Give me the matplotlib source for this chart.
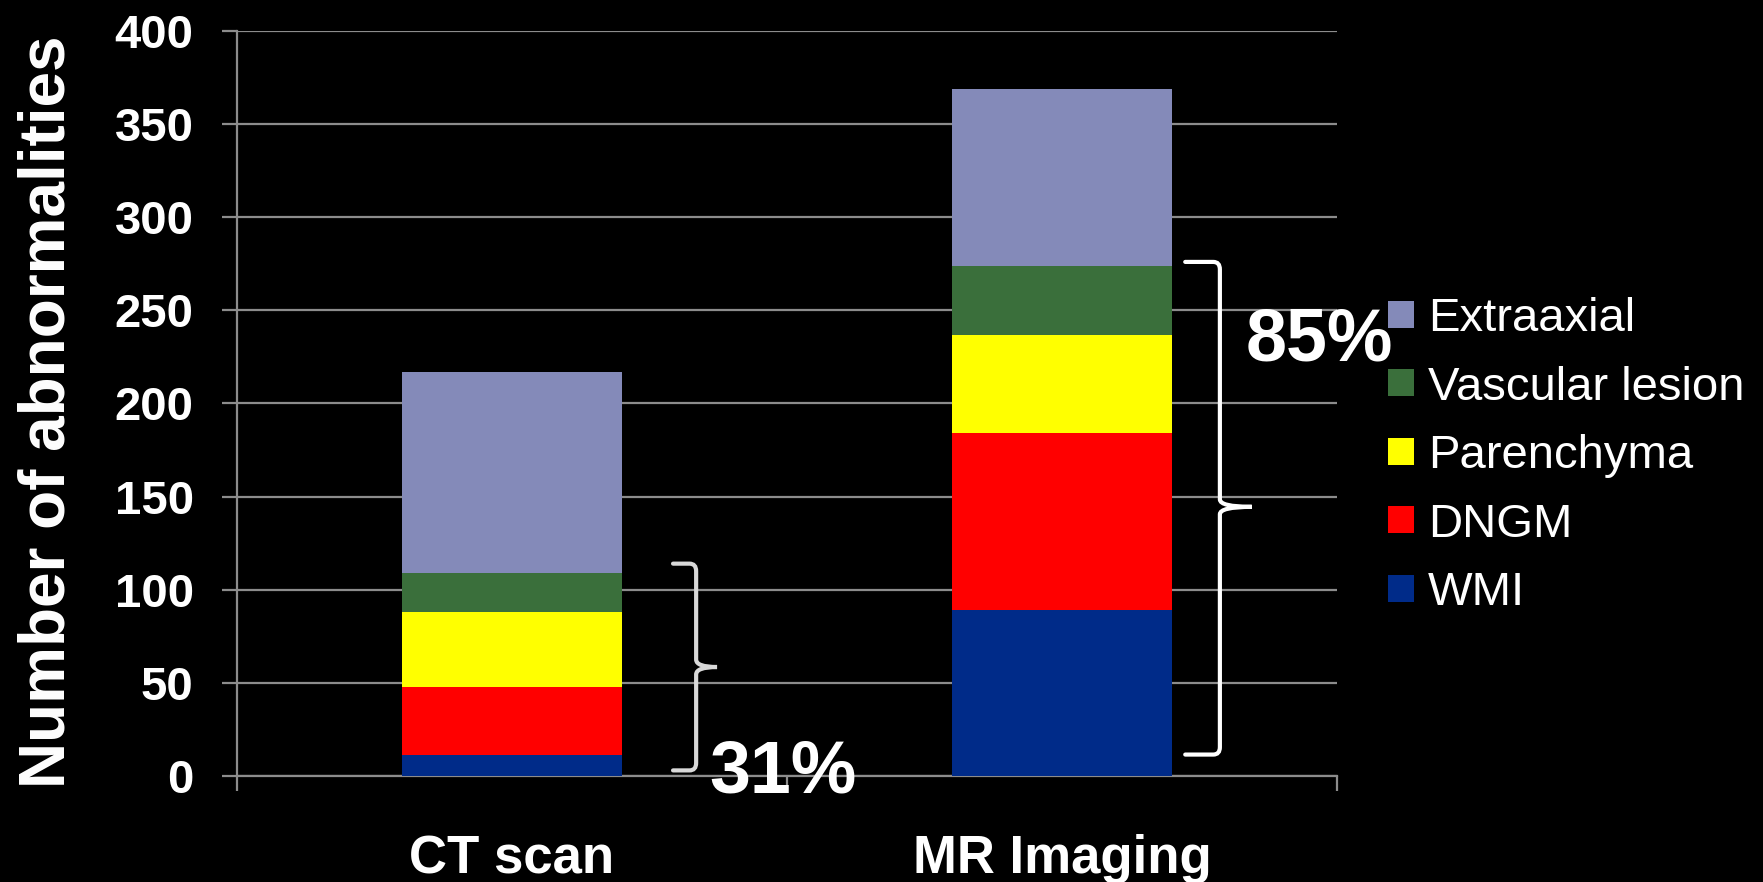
import matplotlib
matplotlib.use("Agg")
import matplotlib.pyplot as plt
from matplotlib.patches import Patch, PathPatch
from matplotlib.path import Path

plt.rcParams['font.family'] = ['Liberation Sans', 'DejaVu Sans']

categories = ["CT scan", "MR Imaging"]
series_names = ["WMI", "DNGM", "Parenchyma", "Vascular lesion", "Extraaxial"]
wmi = [11, 89]
dngm = [37, 95]
parenchyma = [40, 53]
vascular = [21, 37]
extraaxial = [108, 95]
series_colors = ["#002B89", "#FF0000", "#FFFF00", "#3A6F3B", "#848AB9"]
yticks = [0, 50, 100, 150, 200, 250, 300, 350, 400]
pct_labels = ["31%", "85%"]

grid_col = "#8C8C8C"

fig = plt.figure(figsize=(17.63, 8.82), dpi=100, facecolor="black")
ax = fig.add_axes([0.1343, 0.1202, 0.6241, 0.8447], facecolor="black")

x = list(range(len(categories)))
bottom = [0, 0]
for name, vals, col in zip(series_names, [wmi, dngm, parenchyma, vascular, extraaxial], series_colors):
    ax.bar(x, vals, width=0.4, bottom=bottom, color=col, label=name, zorder=3, linewidth=0)
    bottom = [b + v for b, v in zip(bottom, vals)]

ax.set_xlim(-0.5, 1.5)
ax.set_ylim(0, 400)
ax.set_yticks(yticks)
ax.set_yticklabels([str(t) for t in yticks], fontsize=34, fontweight="bold", color="white")
ax.yaxis.grid(True, color=grid_col, linewidth=1.6, zorder=0)
ax.set_axisbelow(True)

# category ticks sit between the bars, labels centred under them
ax.set_xticks([-0.5, 0.5, 1.5])
ax.set_xticklabels([])
ax.set_xticks(x, minor=True)
ax.set_xticklabels(categories, minor=True, fontsize=38, fontweight="bold", color="white")
ax.tick_params(axis="x", which="minor", length=0, pad=42)
ax.tick_params(axis="x", which="major", length=11, width=1.6, color=grid_col, direction="out")
ax.tick_params(axis="y", length=11, width=1.6, color=grid_col, pad=20)

for s in ["top", "right"]:
    ax.spines[s].set_visible(False)
ax.spines["left"].set_color(grid_col)
ax.spines["left"].set_linewidth(1.6)
ax.spines["bottom"].set_color(grid_col)
ax.spines["bottom"].set_linewidth(1.6)

fig.text(0.027, 0.533, "Number of abnormalities", rotation=90, ha="center", va="center",
         fontsize=46, fontweight="bold", color="white")


def brace(ax, x_hook, x_line, x_tip, y_bot, y_mid, y_top, color):
    rx, ry = 0.012, 4
    verts = [
        (x_hook, y_top), (x_line - rx, y_top), (x_line, y_top), (x_line, y_top - ry),
        (x_line, y_mid + ry), (x_line, y_mid), (x_tip, y_mid),
        (x_line, y_mid), (x_line, y_mid - ry),
        (x_line, y_bot + ry), (x_line, y_bot), (x_line - rx, y_bot), (x_hook, y_bot),
    ]
    codes = [
        Path.MOVETO, Path.LINETO, Path.CURVE3, Path.CURVE3,
        Path.LINETO, Path.CURVE3, Path.CURVE3,
        Path.CURVE3, Path.CURVE3,
        Path.LINETO, Path.CURVE3, Path.CURVE3, Path.LINETO,
    ]
    ax.add_patch(PathPatch(Path(verts, codes), facecolor="none", edgecolor=color,
                           linewidth=3.0, clip_on=False, zorder=5, capstyle="round"))


brace(ax, 0.293, 0.335, 0.373, 3, 58.5, 114, "#D9D9D9")
brace(ax, 1.224, 1.287, 1.345, 11.5, 144.5, 276, "white")

ax.text(0.493, -9, pct_labels[0], ha="center", va="baseline", fontsize=53,
        fontweight="bold", color="white", clip_on=False, zorder=6)
ax.text(1.468, 223, pct_labels[1], ha="center", va="baseline", fontsize=53,
        fontweight="bold", color="white", clip_on=False, zorder=6)

handles = [Patch(facecolor=c, edgecolor="none") for c in series_colors][::-1]
leg = ax.legend(handles, series_names[::-1], loc="upper left",
                bbox_to_anchor=(1388 / 1763, 1 - 297 / 882), bbox_transform=fig.transFigure,
                frameon=False, fontsize=34, labelcolor="white",
                handlelength=0.55, handleheight=0.5, handletextpad=0.3,
                labelspacing=0.52, borderpad=0, borderaxespad=0)

fig.savefig("out.png", dpi=100, facecolor="black")
